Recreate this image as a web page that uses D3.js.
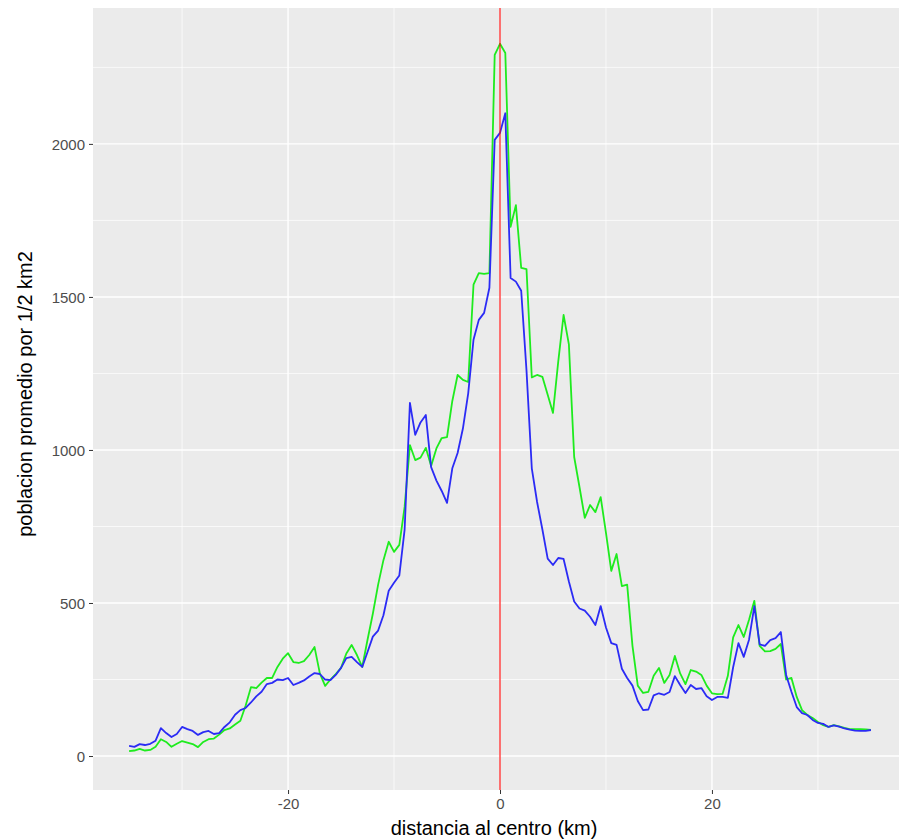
<!DOCTYPE html>
<html>
<head>
<meta charset="utf-8">
<script src="https://cdn.jsdelivr.net/npm/d3@7"></script>
<style>
  html, body { margin: 0; padding: 0; background: #ffffff; }
  svg { display: block; }
</style>
</head>
<body>
<svg id="chart" width="899" height="839"></svg>
<script>
// distance to centre (km), step 0.5 from -35 to 35
const distancia = d3.range(-35, 35.001, 0.5);

// blue series
const serieAzul = [
  33, 30, 39, 36, 40, 50, 91, 75, 62, 72,
  95, 88, 82, 69, 78, 82, 72, 75, 95, 110,
  135, 150, 157, 175, 195, 210, 235, 239, 250, 248,
  255, 232, 239, 247, 260, 271, 268, 250, 248, 265,
  288, 320, 324, 307, 291, 340, 390, 410, 460, 540,
  566, 590, 740, 1154, 1049, 1090, 1114, 944, 900, 866,
  827, 940, 990, 1070, 1185, 1360, 1425, 1448, 1530, 2013,
  2036, 2100, 1562, 1550, 1520, 1260, 940, 830, 740, 645,
  624, 647, 644, 570, 505, 482, 475, 455, 428, 490,
  420, 369, 363, 285, 255, 230, 180, 150, 152, 198,
  205, 200, 209, 261, 232, 206, 232, 219, 222, 195,
  183, 193, 193, 190, 290, 369, 324, 380, 490, 365,
  360, 379, 385, 405, 265, 210, 160, 140, 134, 118,
  108, 105, 95, 100, 96, 90, 86, 83, 82, 82,
  85
];

// green series
const serieVerde = [
  16, 18, 23, 18, 20, 30, 55, 46, 30, 40,
  49, 44, 39, 29, 46, 55, 57, 70, 85, 90,
  103, 115, 165, 225, 222, 240, 255, 255, 291, 318,
  336, 307, 304, 310, 330, 356, 270, 229, 250, 268,
  288, 335, 363, 330, 291, 380, 465, 560, 640, 700,
  667, 690, 814, 1016, 967, 975, 1007, 948, 1005, 1039,
  1042, 1160, 1245, 1229, 1222, 1540, 1578, 1575, 1578, 2291,
  2327, 2297, 1729, 1800, 1595, 1591, 1237, 1245, 1239, 1180,
  1121, 1290, 1441, 1345, 977, 879, 778, 820, 797, 846,
  729, 605, 660, 555, 560, 360, 230, 206, 210, 262,
  288, 239, 265, 327, 270, 235, 281, 276, 265, 230,
  205, 202, 203, 262, 388, 428, 389, 445, 507, 360,
  342, 343, 350, 366, 250, 255, 193, 150, 134, 124,
  111, 101, 95, 101, 97, 92, 88, 88, 88, 87,
  85
];

const xTicks = [-20, 0, 20];
const xMinor = [-30, -10, 10, 30];
const yTicks = [0, 500, 1000, 1500, 2000];
const yMinor = [250, 750, 1250, 1750, 2250];
const lineaCentro = [0];

const svg = d3.select("#chart");
const W = 899, H = 839;
const panel = { left: 93, right: 899, top: 8, bottom: 790 };

const x = d3.scaleLinear().domain([-38.5, 38.5]).range([92, 908]);
const y = d3.scaleLinear().domain([-111, 2444]).range([panel.bottom, panel.top]);

svg.append("rect").attr("x", 0).attr("y", 0).attr("width", W).attr("height", H).attr("fill", "#ffffff");

svg.append("defs").append("clipPath").attr("id", "clip")
  .append("rect").attr("x", panel.left).attr("y", panel.top)
  .attr("width", panel.right - panel.left).attr("height", panel.bottom - panel.top);

const g = svg.append("g").attr("clip-path", "url(#clip)");
g.append("rect")
  .attr("x", panel.left).attr("y", panel.top)
  .attr("width", panel.right - panel.left).attr("height", panel.bottom - panel.top)
  .attr("fill", "#EBEBEB");

// minor grid
g.selectAll(".xminor").data(xMinor).enter().append("line")
  .attr("x1", d => x(d)).attr("x2", d => x(d))
  .attr("y1", panel.top).attr("y2", panel.bottom)
  .attr("stroke", "#ffffff").attr("stroke-width", 0.7);
g.selectAll(".yminor").data(yMinor).enter().append("line")
  .attr("y1", d => y(d)).attr("y2", d => y(d))
  .attr("x1", panel.left).attr("x2", panel.right)
  .attr("stroke", "#ffffff").attr("stroke-width", 0.7);
// major grid
g.selectAll(".xmajor").data(xTicks).enter().append("line")
  .attr("x1", d => x(d)).attr("x2", d => x(d))
  .attr("y1", panel.top).attr("y2", panel.bottom)
  .attr("stroke", "#ffffff").attr("stroke-width", 1.4);
g.selectAll(".ymajor").data(yTicks).enter().append("line")
  .attr("y1", d => y(d)).attr("y2", d => y(d))
  .attr("x1", panel.left).attr("x2", panel.right)
  .attr("stroke", "#ffffff").attr("stroke-width", 1.4);

const line = d3.line().x(d => x(d[0])).y(d => y(d[1]));

g.append("path")
  .datum(distancia.map((d, i) => [d, serieVerde[i]]))
  .attr("d", line).attr("fill", "none")
  .attr("stroke", "#1EEB1E").attr("stroke-width", 1.8).attr("stroke-linejoin", "round");

g.append("path")
  .datum(distancia.map((d, i) => [d, serieAzul[i]]))
  .attr("d", line).attr("fill", "none")
  .attr("stroke", "#2B2BF5").attr("stroke-width", 1.8).attr("stroke-linejoin", "round");

g.selectAll(".vline").data(lineaCentro).enter().append("line")
  .attr("x1", d => x(d)).attr("x2", d => x(d))
  .attr("y1", panel.top).attr("y2", panel.bottom)
  .attr("stroke", "#FF0000").attr("stroke-opacity", 0.55).attr("stroke-width", 2);

// axes
const font = "'Liberation Sans', Arial, Helvetica, sans-serif";
const xAxis = d3.axisBottom(x).tickValues(xTicks).tickSize(4).tickPadding(4).tickFormat(d => String(d));
const yAxis = d3.axisLeft(y).tickValues(yTicks).tickSize(4).tickPadding(4).tickFormat(d => String(d));

const gx = svg.append("g").attr("transform", `translate(0,${panel.bottom})`).call(xAxis);
const gy = svg.append("g").attr("transform", `translate(${panel.left},0)`).call(yAxis);
[gx, gy].forEach(a => {
  a.select(".domain").remove();
  a.selectAll(".tick line").attr("stroke", "#333333").attr("stroke-width", 1);
  a.selectAll(".tick text").attr("fill", "#4D4D4D").style("font-family", font).style("font-size", "15px");
});
gy.selectAll(".tick text").attr("dy", "0.35em");

svg.append("text")
  .attr("x", (panel.left + panel.right) / 2 - 2).attr("y", 835)
  .attr("text-anchor", "middle")
  .style("font-family", font).style("font-size", "20px").attr("fill", "#000000")
  .text("distancia al centro (km)");

svg.append("text")
  .attr("transform", `translate(32,${(panel.top + panel.bottom) / 2 - 5}) rotate(-90)`)
  .attr("text-anchor", "middle")
  .style("font-family", font).style("font-size", "20px").attr("fill", "#000000")
  .text("poblacion promedio por 1/2 km2");
</script>
</body>
</html>
